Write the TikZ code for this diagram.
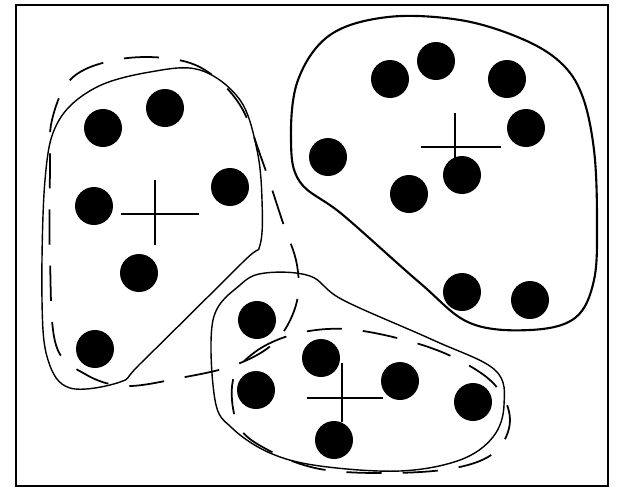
\documentclass[tikz,border=0pt]{standalone}
\usetikzlibrary{positioning}

\begin{document}
\begin{tikzpicture}[
    x=0.02cm, y=-0.02cm,
    frame/.style={draw, line width=1.4pt},
    dot/.style={fill=black},
    cross/.style={line width=0.8pt},
    hull/.style={line width=0.8pt},
    guess/.style={
        line width=1pt,
        dash pattern=on 20pt off 12pt
    }
]

\useasboundingbox (0,0) rectangle (619,488);

\draw[frame] (16,5) rectangle (608,486);

% solid outlines
\draw[hull] plot[smooth cycle, tension=0.6] coordinates {
    (150,72) (200,70) (240,100) (257,150) (262,200) (260,245)
    (243,262) (142,362) (120,382) (70,388) (48,360) (42,300)
    (45,180) (58,122) (95,88)};

\draw[hull, line width=1.2pt] plot[smooth cycle, tension=0.6] coordinates {
    (388,17) (460,20) (520,38) (560,62) (582,95) (594,150)
    (597,220) (594,280) (575,318) (530,330) (470,323) (420,283)
    (343,215) (300,182) (291,140) (298,80) (330,35)};

\draw[hull] plot[smooth cycle, tension=0.6] coordinates {
    (265,273) (310,276) (343,300) (433,340) (495,370) (504,405)
    (493,437) (460,460) (400,471) (320,466) (270,453) (232,428)
    (215,400) (213,320) (240,285)};

% dashed outlines
\draw[guess] plot[smooth cycle, tension=0.6] coordinates {
    (52,120) (72,78) (115,60) (165,58) (205,70) (240,105)
    (262,160) (282,220) (297,265) (296,305) (275,342) (235,365)
    (180,378) (125,386) (85,374) (56,345) (50,260) (50,170)};

\draw[guess] plot[smooth cycle, tension=0.6] coordinates {
    (233,380) (255,352) (295,334) (345,329) (405,340) (455,358)
    (495,385) (510,420) (495,452) (455,468) (390,473) (320,469)
    (268,450) (238,425)};

% points
\foreach \p in {(103,128), (165,108), (230,187), (94,206), (139,273), (95,349),
                (390,79), (436,61), (507,79), (526,128), (328,157), (409,194),
                (462,175), (462,292), (530,300),
                (257,320), (321,358), (256,390), (400,381), (473,402), (334,440)}
    \fill[dot] \p circle (19);

% centres
\draw[cross] (155,180) -- (155,245);
\draw[cross] (121,214) -- (199,214);
\draw[cross] (455,113) -- (455,160);
\draw[cross] (421,147) -- (501,147);
\draw[cross] (342,363) -- (342,422);
\draw[cross] (307,398) -- (383,398);

\end{tikzpicture}
\end{document}
